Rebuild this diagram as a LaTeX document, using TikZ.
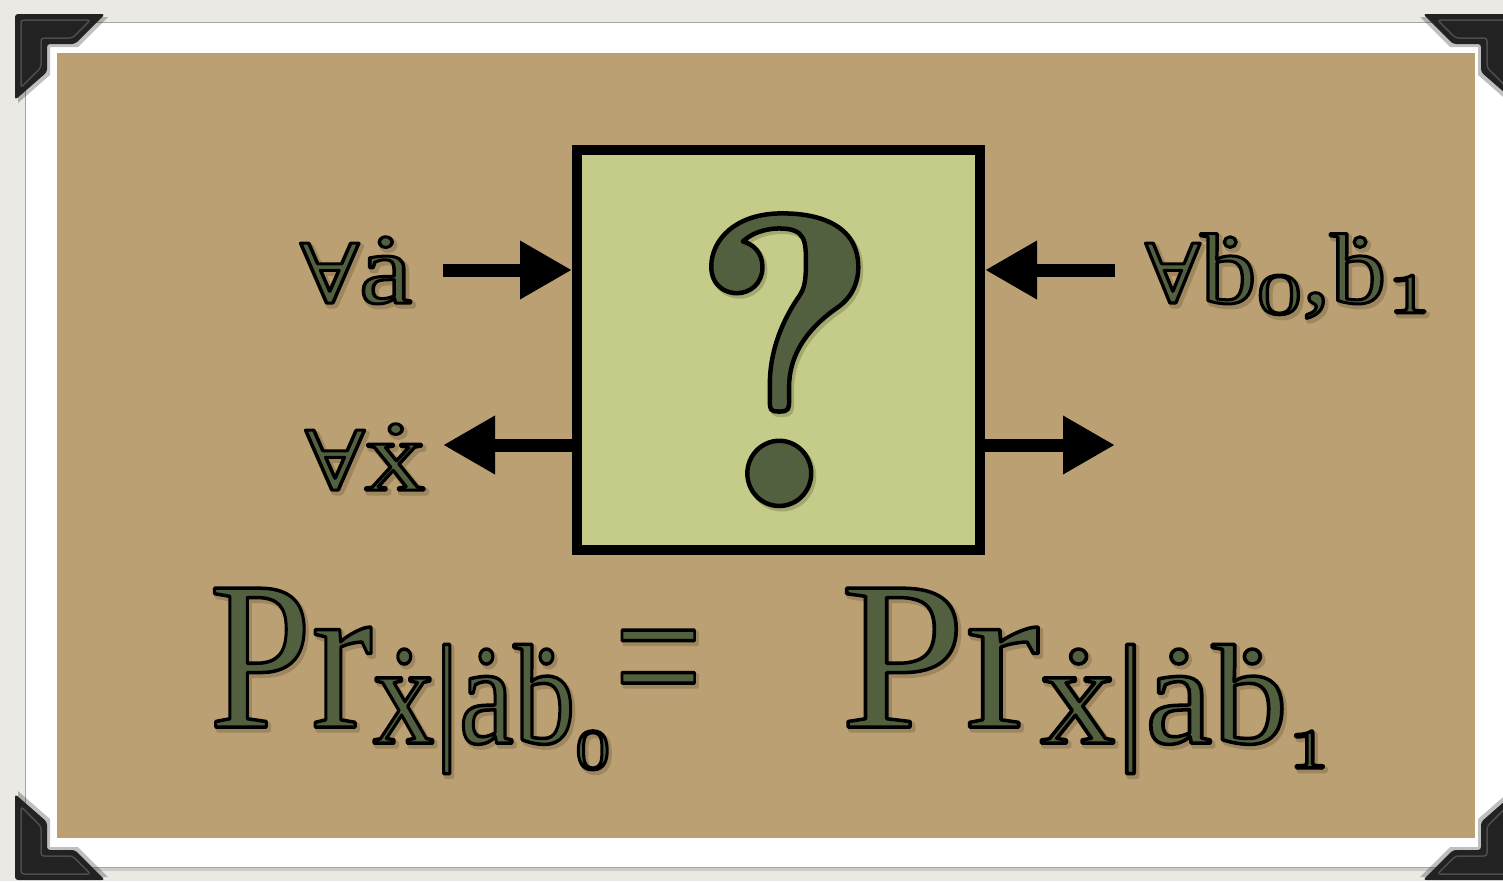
\RequirePackage{fix-cm}
\documentclass[tikz,border=0pt]{standalone}
\usepackage{fontspec}
\usepackage{graphicx}
\setmainfont{Liberation Serif}
\newfontfamily\dvs{DejaVu Serif}
\usetikzlibrary{arrows.meta}
\definecolor{paper}{HTML}{EBE9E3}
\definecolor{tanc}{HTML}{BAA073}
\definecolor{boxfill}{HTML}{C5CB89}
\definecolor{ink}{HTML}{52603F}
\definecolor{cornerc}{HTML}{222222}
\newcommand\osf[1]{{\usefont{OML}{cmm}{m}{it}#1}}
\newcommand\outl[2][3]{{\special{pdf:literal direct 0.322 0.376 0.247 rg 0 0 0 RG #1 w 1 j 2 Tr}#2\special{pdf:literal direct 0 Tr}}}
\newcommand\shad[2][0.62 0.53 0.37]{\rlap{\raisebox{-3pt}{\kern2.5pt{\special{pdf:literal direct #1 rg #1 RG 5 w 1 j 2 Tr}#2\special{pdf:literal direct 0 Tr}}}}}
\newcommand\fancy[2][3]{\shad{#2}\outl[#1]{#2}}
\newcommand\fs[1]{\fontsize{#1}{#1}\selectfont}
\begin{document}
\begin{tikzpicture}[x=1pt,y=-1pt,
  lbl/.style={anchor=base west, inner sep=0pt, text=ink},
  arr/.style={line width=13pt, -{Triangle[length=52pt,width=55pt]}},
  cornershape/.style={fill=cornerc, rounded corners=3pt},
  bevel/.style={draw=black!70, line width=1.5pt, rounded corners=3pt}]
\useasboundingbox (0,0) rectangle (1503,881);
\fill[paper] (0,0) rectangle (1503,881);
% photo frame
\fill[black, opacity=.12] (28,26) rectangle (1515,871);
\filldraw[fill=white, draw=black!35, line width=1pt] (25,22) rectangle (1512,867);
\fill[tanc] (57,53) rectangle (1475,838);
% photo corners
\foreach \px/\py/\sx/\sy in {15/14/1/1, 1513/14/-1/1, 15/880/1/-1, 1513/880/-1/-1}{
  \begin{scope}[shift={(\px,\py)}, xscale=\sx, yscale=\sy]
    \fill[black, opacity=.25] (3,3) -- (93,3) -- (63,33) -- (35,33) -- (35,61) -- (3,89) -- cycle;
    \path[cornershape] (0,0) -- (90,0) -- (60,30) -- (32,30) -- (32,58) -- (0,86) -- cycle;
    \path[bevel] (6,6) -- (75.5,6) -- (57.5,24) -- (26,24) -- (26,53.5) -- (6,73.5) -- cycle;
  \end{scope}
}
% the box
\node[draw=black, line width=10pt, fill=boxfill, minimum width=403pt, minimum height=400pt, inner sep=0pt] (box) at (778.5,350) {};
\node[anchor=base, inner sep=0pt, text=ink] (q) at (785,506) {\fontfamily{lmr}\bfseries\fs{418}\shad[0.64 0.66 0.43]{\scalebox{0.98}[1]{?}}\outl[4.5]{\scalebox{0.98}[1]{?}}};
% arrows
\coordinate (ia) at (443,270);
\coordinate (ox) at (443,445);
\coordinate (ib) at (1115,270);
\coordinate (oy) at (1115,445);
\draw[arr] (ia) -- (box.west |- ia);
\draw[arr] (box.west |- ox) -- (ox);
\draw[arr] (ib) -- (box.east |- ib);
\draw[arr] (box.east |- oy) -- (oy);
% labels
\node[lbl] (la) at (300,303) {\fancy{\resizebox{112pt}{\height}{{\dvs\fs{82}∀}\fs{100}ȧ}}};
\node[lbl] (lx) at (305,490) {\fancy{\resizebox{120pt}{\height}{{\dvs\fs{82}∀}\fs{100}ẋ}}};
\node[lbl] (lb) at (1145,303) {\fancy{\resizebox{287pt}{\height}{{\dvs\fs{82}∀}\fs{100}ḃ\raisebox{-10pt}{\fs{84}\osf{0}},ḃ\raisebox{-10pt}{\fs{84}\osf{1}}}}};
% formula
\node[lbl] (fl) at (209,727) {\fancy[3.5]{\resizebox{401pt}{\height}{\fs{212}Pr\raisebox{-16pt}{\fs{142}ẋ|ȧḃ\raisebox{-25pt}{\fs{82}\osf{0}}}}}};
\node[lbl] (eq) at (614,727) {\fancy[3.5]{\resizebox{88pt}{\height}{\fs{212}=}}};
\node[lbl] (fr) at (840,727) {\fancy[3.5]{\resizebox{490pt}{\height}{\fs{212}Pr\raisebox{-16pt}{\fs{142}ẋ|ȧḃ\raisebox{-25pt}{\fs{82}\osf{1}}}}}};
\end{tikzpicture}
\end{document}
